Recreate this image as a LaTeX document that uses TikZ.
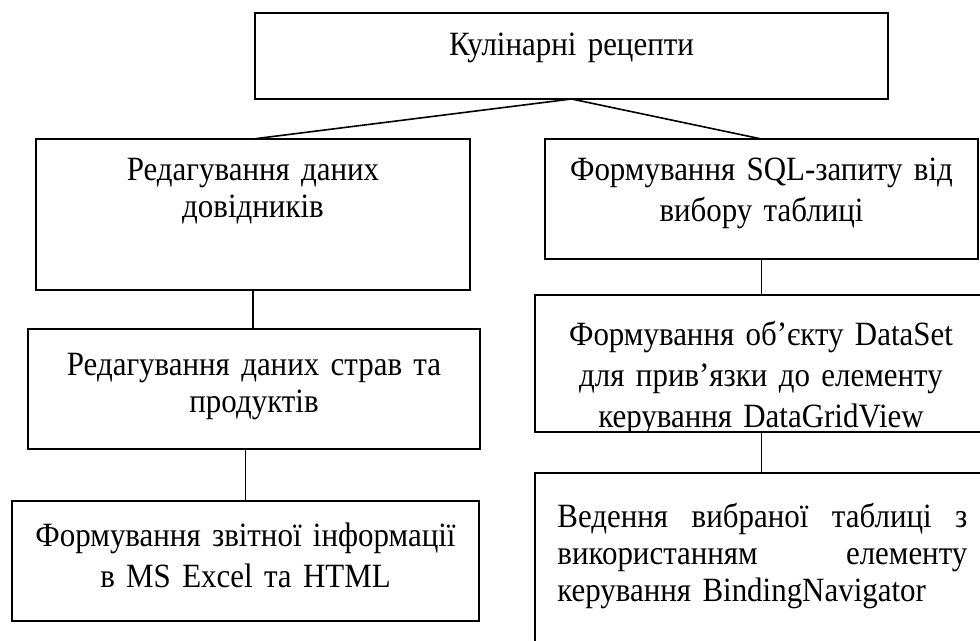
\documentclass[tikz,border=0pt]{standalone}
\usepackage{fontspec}
\setmainfont{Liberation Serif}[FakeStretch=0.91]
\usetikzlibrary{positioning}

\tikzset{
  frame/.style={draw, line width=0.8pt, anchor=north west, inner sep=0pt, outer sep=0pt},
  boxtext/.style={anchor=base, align=center, inner sep=0pt, font=\fontsize{17}{20.5}\selectfont},
  tight/.style={font=\fontsize{17}{18.5}\selectfont},
  link/.style={line width=0.8pt}
}

\begin{document}
\begin{tikzpicture}[x=0.5pt, y=-0.5pt]
  \useasboundingbox (0,0) rectangle (980,641);
  \clip (0,0) rectangle (980,641);

  % boxes
  \node[frame, minimum width=316.5pt, minimum height=43pt] (recipes) at (255,13) {};
  \node[frame, minimum width=217pt, minimum height=75.5pt] (dovid) at (36,139) {};
  \node[frame, minimum width=226pt, minimum height=60pt] (stravy) at (28,329) {};
  \node[frame, minimum width=233.5pt, minimum height=60pt] (zvit) at (12,501) {};
  \node[frame, minimum width=216.5pt, minimum height=60pt] (sql) at (545,139) {};
  \node[frame, minimum width=232.5pt, minimum height=68.5pt] (dataset) at (535,295) {};
  \node[frame, minimum width=232.5pt, minimum height=120pt] (navigator) at (535,473) {};

  % texts
  \node[boxtext, text width=300pt] (recipestext) at (571.5,56) {Кулінарні рецепти};
  \node[boxtext, tight, text width=210pt] (dovidtext) at (253,181) {Редагування даних\\довідників};
  \node[boxtext, tight, text width=220pt] (stravytext) at (254,376) {Редагування даних страв та\\продуктів};
  \node[boxtext, text width=228pt] (zvittext) at (245.5,546) {Формування звітної інформації\\в MS Excel та HTML};
  \node[boxtext, text width=210pt] (sqltext) at (761.5,181) {Формування SQL-запиту від\\вибору таблиці};
  \begin{scope}
    \clip ([yshift=0.4pt]dataset.north west) rectangle ([yshift=0.4pt]dataset.south east);
    \node[boxtext, text width=220pt] (datasettext) at (761,346)
      {Формування об’єкту DataSet\\для прив’язки до елементу\\керування DataGridView};
  \end{scope}
  \node[boxtext, anchor=base west, align=left, text width=205pt,
        font=\fontsize{17}{18.5}\selectfont] (navigatortext) at (557,527)
    {\makebox[205pt][s]{Ведення\hfill вибраної\hfill таблиці\hfill з}\\
     \makebox[205pt][s]{використанням\hfill елементу}\\
     керування BindingNavigator};

  % connectors
  \draw[link] (recipes.south) -- (dovid.north);
  \draw[link] (recipes.south) -- (sql.north);
  \draw[link] (dovid.south) -- (dovid.south |- stravy.north);
  \draw[link] (zvit.north |- stravy.south) -- (zvit.north);
  \draw[link] (sql.south) -- (sql.south |- dataset.north);
  \draw[link] (sql.south |- dataset.south) -- (sql.south |- navigator.north);
\end{tikzpicture}
\end{document}
